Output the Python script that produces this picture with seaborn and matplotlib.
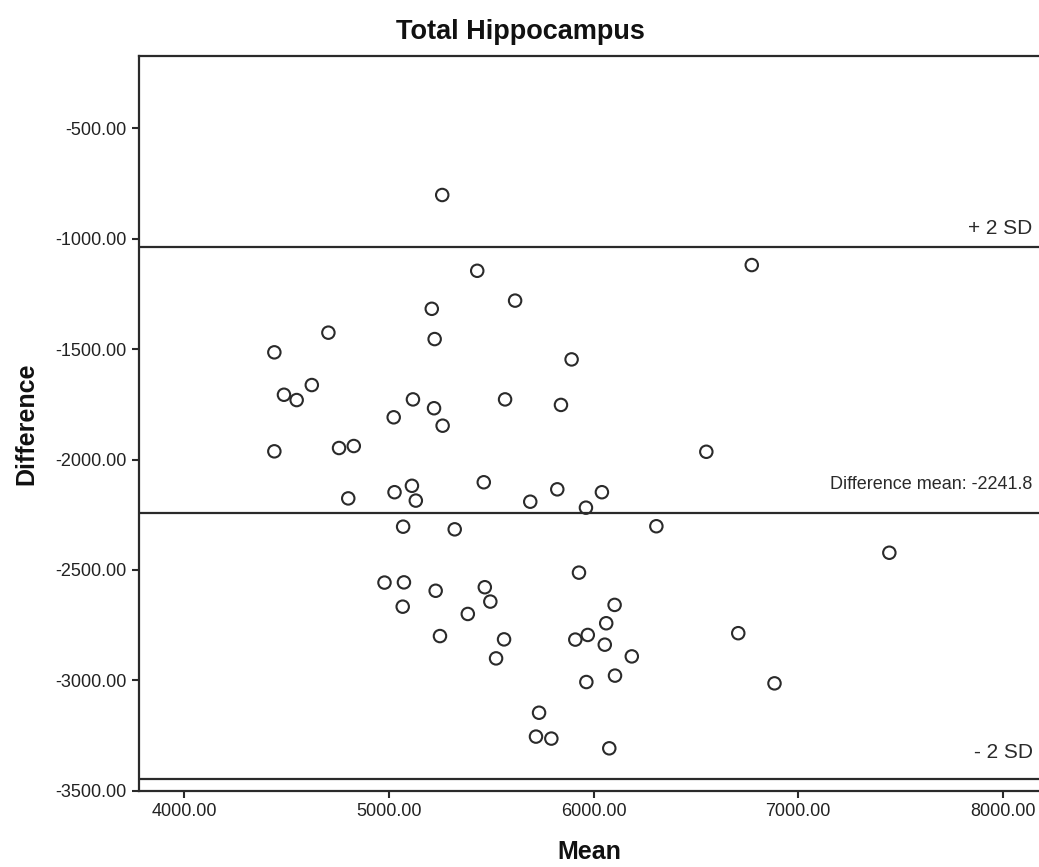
import pandas as pd
import seaborn as sns
import matplotlib.pyplot as plt
from matplotlib.ticker import FormatStrFormatter
import matplotlib.transforms as mtransforms


# Bland-Altman data
mean_vals = [5261, 5432, 6773, 5210, 5617, 4705, 5224, 4441, 5893, 4488,
             4550, 4624, 5118, 5568, 5841, 5024, 5221, 5263, 4441, 4757,
             4829, 6551, 5464, 5113, 5028, 5132, 4802, 5691, 5823, 6041,
             5963, 5070, 5322, 6307, 7445, 4979, 5074, 5068, 5229, 5250,
             5386, 5469, 5496, 5563, 5524, 5929, 6103, 6062, 5911, 5972,
             6055, 6187, 6105, 5965, 5734, 5719, 5794, 6077, 6707, 6884]
diff_vals = [-803, -1146, -1120, -1318, -1281, -1426, -1455, -1515, -1547, -1707,
             -1731, -1663, -1728, -1728, -1753, -1809, -1768, -1847, -1963, -1948,
             -1939, -1965, -2103, -2119, -2148, -2186, -2176, -2191, -2135, -2148,
             -2218, -2304, -2316, -2302, -2422, -2557, -2556, -2666, -2594, -2799,
             -2699, -2578, -2643, -2814, -2900, -2512, -2658, -2741, -2815, -2794,
             -2838, -2891, -2978, -3007, -3146, -3254, -3263, -3307, -2786, -3013]

diff_mean = -2241.8
diff_sd = 601.0

x_ticks = [4000, 5000, 6000, 7000, 8000]
y_ticks = [-500, -1000, -1500, -2000, -2500, -3000, -3500]

df = pd.DataFrame({"Mean": mean_vals, "Difference": diff_vals})

sns.set_style("white")
plt.rcParams["font.family"] = ["Liberation Sans", "DejaVu Sans"]

ink = "#2a2a2a"

fig = plt.figure(figsize=(10.39, 8.67), dpi=100)
ax = fig.add_axes([0.1338, 0.0877, 0.8662, 0.8477])

sns.scatterplot(data=df, x="Mean", y="Difference", ax=ax, s=80,
                facecolors="none", edgecolor=ink, linewidth=1.5)

upper = diff_mean + 2 * diff_sd
lower = diff_mean - 2 * diff_sd
for val in (upper, diff_mean, lower):
    ax.axhline(val, color=ink, lw=1.6)

trans = mtransforms.blended_transform_factory(ax.transAxes, ax.transData)
ax.annotate("+ 2 SD", xy=(0.993, upper), xycoords=trans, xytext=(0, 7),
            textcoords="offset points", ha="right", va="bottom", fontsize=15, color=ink)
ax.annotate(f"Difference mean: {diff_mean}", xy=(0.993, diff_mean), xycoords=trans,
            xytext=(0, 14), textcoords="offset points", ha="right", va="bottom",
            fontsize=13, color=ink)
ax.annotate("- 2 SD", xy=(0.993, lower), xycoords=trans, xytext=(0, 12),
            textcoords="offset points", ha="right", va="bottom", fontsize=15, color=ink)

ax.set_xlim(3780, 8176)
ax.set_ylim(-3500, -174)
ax.set_xticks(x_ticks)
ax.set_yticks(y_ticks)
ax.xaxis.set_major_formatter(FormatStrFormatter("%.2f"))
ax.yaxis.set_major_formatter(FormatStrFormatter("%.2f"))
ax.tick_params(axis="both", direction="out", length=5, width=1.5, colors=ink,
               labelsize=13, labelcolor="#222222", pad=4, bottom=True, left=True)

for side in ("left", "bottom", "top"):
    ax.spines[side].set_color(ink)
    ax.spines[side].set_linewidth(1.6)
ax.spines["right"].set_visible(False)

# title sits over the figure centre, not the axes centre
ax.set_title("Total Hippocampus", x=0.424, fontsize=19.5, fontweight="bold", pad=12,
             color="#111111")
ax.set_xlabel("Mean", fontsize=18, fontweight="bold", labelpad=14, color="#111111")
ax.set_ylabel("Difference", fontsize=18, fontweight="bold", labelpad=12, color="#111111")

fig.savefig("out.png", dpi=100)
